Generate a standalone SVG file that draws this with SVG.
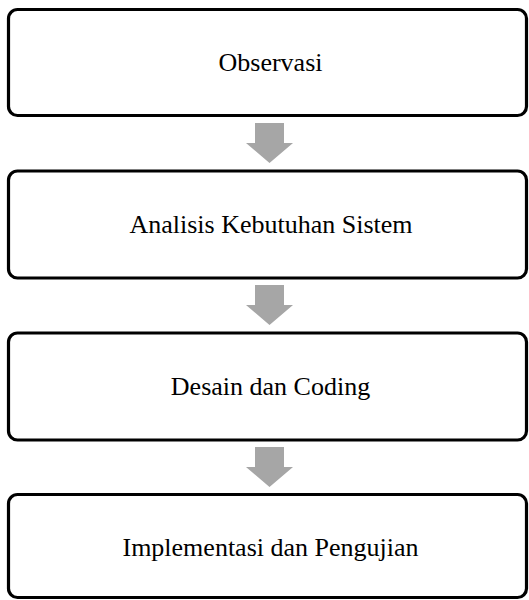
<svg xmlns="http://www.w3.org/2000/svg" width="529" height="600" viewBox="0 0 529 600">
<style>
.box{fill:#fff;stroke:#000;stroke-width:3.2}
.lbl{font-family:"Liberation Serif","Times New Roman",serif;font-size:26px;fill:#000;text-anchor:middle}
.arr{fill:#a6a6a6;stroke:none}
</style>
<rect width="529" height="600" fill="#fff"/>
<g id="connectors">
<polygon class="arr" points="255,123 284,123 284,143 293,143 269.5,163 246,143 255,143"/>
<polygon class="arr" points="255,285 284,285 284,305 293,305 269.5,325 246,305 255,305"/>
<polygon class="arr" points="255,447 284,447 284,467 293,467 269.5,487 246,467 255,467"/>
</g>
<g id="node1"><rect class="box" x="8.5" y="9.5" width="518" height="106" rx="9"/><text class="lbl" x="270.5" y="71">Observasi</text></g>
<g id="node2"><rect class="box" x="8.5" y="171" width="518" height="107" rx="9"/><text class="lbl" x="271" y="233">Analisis Kebutuhan Sistem</text></g>
<g id="node3"><rect class="box" x="8.5" y="333" width="518" height="107" rx="9"/><text class="lbl" x="270.5" y="395">Desain dan Coding</text></g>
<g id="node4"><rect class="box" x="8.5" y="494.5" width="518" height="103" rx="9"/><text class="lbl" x="270.5" y="556">Implementasi dan Pengujian</text></g>
</svg>
